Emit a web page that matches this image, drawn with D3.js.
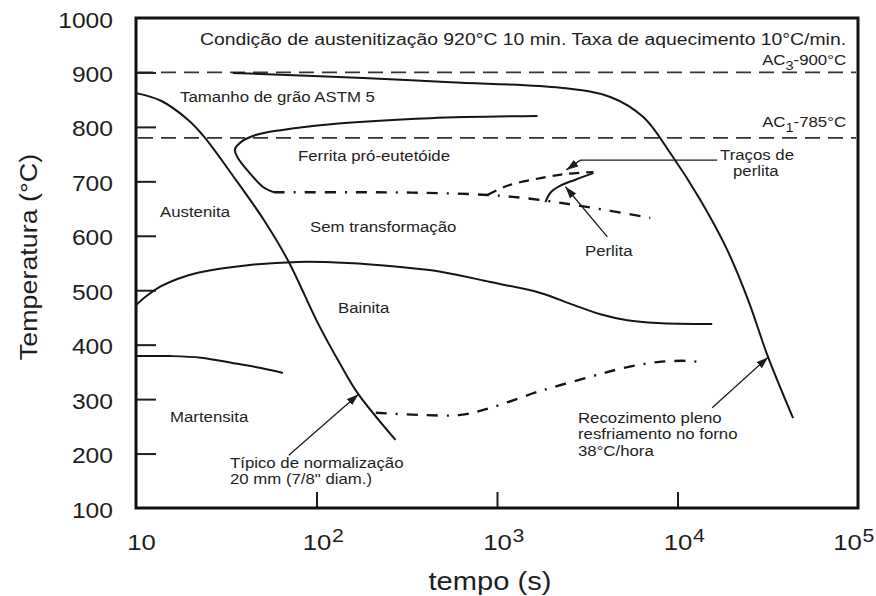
<!DOCTYPE html>
<html><head><meta charset="utf-8">
<script src="https://cdn.jsdelivr.net/npm/d3@7/dist/d3.min.js"></script>
<style>
body{margin:0;background:#fff}
text{font-family:"Liberation Sans",Arial,Helvetica,sans-serif;fill:#1e1e1e}
</style>
</head><body>
<svg id="chart" width="876" height="596"></svg>
<script>
// ---------- data (time in s, temperature in °C) ----------
const yTicks = [100,200,300,400,500,600,700,800,900,1000];
const xTicks = [10,100,1000,10000,100000];
const xTickExp = ["", "2", "3", "4", "5"];
const acLabels = [["AC","3","-900°C"],["AC","1","-785°C"]];
const acTemps = [900, 780];

const annealCooling = [[34.4,899],[182,890],[553,882],[2245,872],[4246,855],[6465,818],[9120,752],[13360,666],[18850,574],[24630,482],[31770,377],[43690,265]];
const normalCooling = [[10,862],[13.75,848],[19.4,813],[23.8,782],[34.8,708],[51.1,629],[70.2,552],[101.6,440],[136,363],[169,311],[274,225]];
const ferriteStart = [[58,680],[50.4,690],[42.2,717],[36.7,743],[35.3,758],[38.1,772],[46.1,785],[63.4,794],[120,805],[428,816],[1675,820]];
const ferriteFinish = [[58,680],[155,680],[377,679],[886,675],[1532,668],[2897,655],[7067,633]];
const pearliteTraces = [[886,675],[1143,692],[1740,706],[2455,714],[3420,717]];
const pearliteStart = [[1855,662],[1977,679],[2245,692],[2718,703],[3420,715]];
const bainiteStart = [[10,473],[11.4,489],[13.2,504],[17.1,521],[22,532],[41.6,546],[78.8,552],[149,550],[282,543],[487,534],[920,515],[1740,495],[2650,473],[3738,456],[5272,445],[7727,440],[15570,438]];
const martensiteStart = [[10,379],[15.6,379],[22.9,376],[34.8,366],[49.2,357],[65.1,348]];
const bainiteFinish = [[213,275],[377,271],[628,271],[920,284],[1740,315],[3291,341],[5012,357],[7727,368],[11765,370],[14240,366]];

const arrowNormal = [[70.2,197],[171,309]];
const arrowAnneal = [[15570,284],[31770,377]];
const arrowPerlite = [[4087,598],[2393,690]];
const arrowTraces = [[16595,739],[2897,739],[2424,721]];

const headerText = "Condição de austenitização 920°C 10 min. Taxa de aquecimento 10°C/min.";
const yTitle = "Temperatura (°C)";
const xTitle = "tempo (s)";

// ---------- layout ----------
const SX = 1.12; // horizontal stretch of the lettering
const svg = d3.select("#chart");
const L = 136, R = 858, T = 18, B = 508;
const x = d3.scaleLog().domain([10,100000]).range([L,R]);
const y = d3.scaleLinear().domain([100,1000]).range([B,T]);

const defs = svg.append("defs");
defs.append("marker").attr("id","ah").attr("viewBox","0 0 12 8")
  .attr("refX",12).attr("refY",4).attr("markerWidth",12).attr("markerHeight",8)
  .attr("markerUnits","userSpaceOnUse").attr("orient","auto")
  .append("path").attr("d","M0,0L12,4L0,8Z").attr("fill","#1e1e1e");

function txt(parent, px, py, s, size, anchor){
  return parent.append("text")
    .attr("transform",`translate(${px},${py}) scale(${SX},1)`)
    .attr("font-size",size).attr("text-anchor",anchor||"start").text(s);
}

// AC lines
acTemps.forEach(t=>{
  svg.append("line").attr("x1",L+2).attr("x2",R-2).attr("y1",y(t)).attr("y2",y(t))
    .attr("stroke","#333").attr("stroke-width",1.8).attr("stroke-dasharray","15,8");
});

// axes
const yAxis = d3.axisLeft(y).tickValues(yTicks).tickSizeInner(-20).tickSizeOuter(0).tickFormat(d3.format("d"));
const gy = svg.append("g").attr("transform",`translate(${L},0)`).call(yAxis);
gy.select(".domain").remove();
gy.selectAll(".tick line").attr("stroke","#1e1e1e").attr("stroke-width",2)
  .filter(d=>d===100||d===1000).remove();
gy.selectAll(".tick text").attr("x",null).attr("dy",null)
  .attr("transform",`translate(-23,9) scale(${SX},1)`)
  .attr("font-size",22).attr("font-family",null).attr("fill","#1e1e1e");
gy.attr("font-family",null).attr("font-size",null);

const xAxis = d3.axisBottom(x).tickValues(xTicks).tickSizeInner(-16).tickSizeOuter(0).tickFormat(()=>"");
const gx = svg.append("g").attr("transform",`translate(0,${B})`).call(xAxis);
gx.select(".domain").remove();
gx.attr("font-family",null).attr("font-size",null).attr("text-anchor",null);
gx.selectAll(".tick line").attr("stroke","#1e1e1e").attr("stroke-width",2)
  .filter(d=>d===10||d===100000).remove();
gx.selectAll(".tick text").remove();
gx.selectAll(".tick").each(function(d,i){
  const n = xTicks.length;
  const nudge = i===0 ? 5 : (i===n-1 ? -11 : 0);
  const t = d3.select(this).append("text")
    .attr("transform",`translate(${nudge-14.3},42) scale(${SX},1)`)
    .attr("text-anchor","start")
    .attr("font-size",23).attr("fill","#1e1e1e");
  t.append("tspan").text("10");
  if (xTickExp[i]) {
    t.append("tspan").attr("font-size",19).attr("dx",0.5).attr("dy",-8).text(xTickExp[i]);
  }
});

// frame
svg.append("rect").attr("x",L).attr("y",T).attr("width",R-L).attr("height",B-T)
  .attr("fill","none").attr("stroke","#111").attr("stroke-width",3);

// curves
const curve = d3.line().x(d=>x(d[0])).y(d=>y(d[1])).curve(d3.curveCatmullRom.alpha(0.5));
const straight = d3.line().x(d=>x(d[0])).y(d=>y(d[1]));
function path(data, dash, gen, w){
  return svg.append("path").attr("d",(gen||curve)(data)).attr("fill","none")
    .attr("stroke","#151515").attr("stroke-width",w||2).attr("stroke-dasharray",dash||null)
    .attr("stroke-linecap","butt");
}
path(annealCooling);
path(normalCooling);
path(ferriteStart);
path(ferriteFinish,"11,9,2,9,11,9",null,2.4);
path(pearliteTraces,"10,7",null,2.2);
path(pearliteStart);
path(bainiteStart);
path(martensiteStart);
path(bainiteFinish,"11,9,2,9,11,9",null,2.4);

// arrows
[arrowNormal, arrowAnneal, arrowPerlite, arrowTraces].forEach(a=>{
  svg.append("path").attr("d",straight(a)).attr("fill","none")
    .attr("stroke","#1e1e1e").attr("stroke-width",1.3).attr("marker-end","url(#ah)");
});

// texts
const g = svg.append("g");
txt(g,200,45,headerText,17.3);
acLabels.forEach((lab,i)=>{
  const t = g.append("text")
    .attr("transform",`translate(846,${i===0?65:127}) scale(${SX},1)`)
    .attr("font-size",15).attr("text-anchor","end");
  t.append("tspan").text(lab[0]);
  t.append("tspan").attr("font-size",13).attr("dy",5).text(lab[1]);
  t.append("tspan").attr("dy",-5).text(lab[2]);
});
txt(g,180,102,"Tamanho de grão ASTM 5",15);
txt(g,298,161,"Ferrita pró-eutetóide",15);
txt(g,160,217,"Austenita",15);
txt(g,310,232,"Sem transformação",15);
txt(g,338,313,"Bainita",15);
txt(g,170,422,"Martensita",15);
txt(g,230,468,"Típico de normalização",15);
txt(g,230,484,"20 mm (7/8\" diam.)",15);
txt(g,585,256,"Perlita",15);
txt(g,720,160,"Traços de",15);
txt(g,733,176,"perlita",15);
txt(g,578,423,"Recozimento pleno",15);
txt(g,578,439,"resfriamento no forno",15);
txt(g,578,456,"38°C/hora",15);

// axis titles
g.append("text").attr("transform",`translate(37,257) rotate(-90) scale(${SX},1)`)
  .attr("font-size",24).attr("text-anchor","middle").text(yTitle);
txt(g,490,590,xTitle,26,"middle");
</script>
</body></html>
